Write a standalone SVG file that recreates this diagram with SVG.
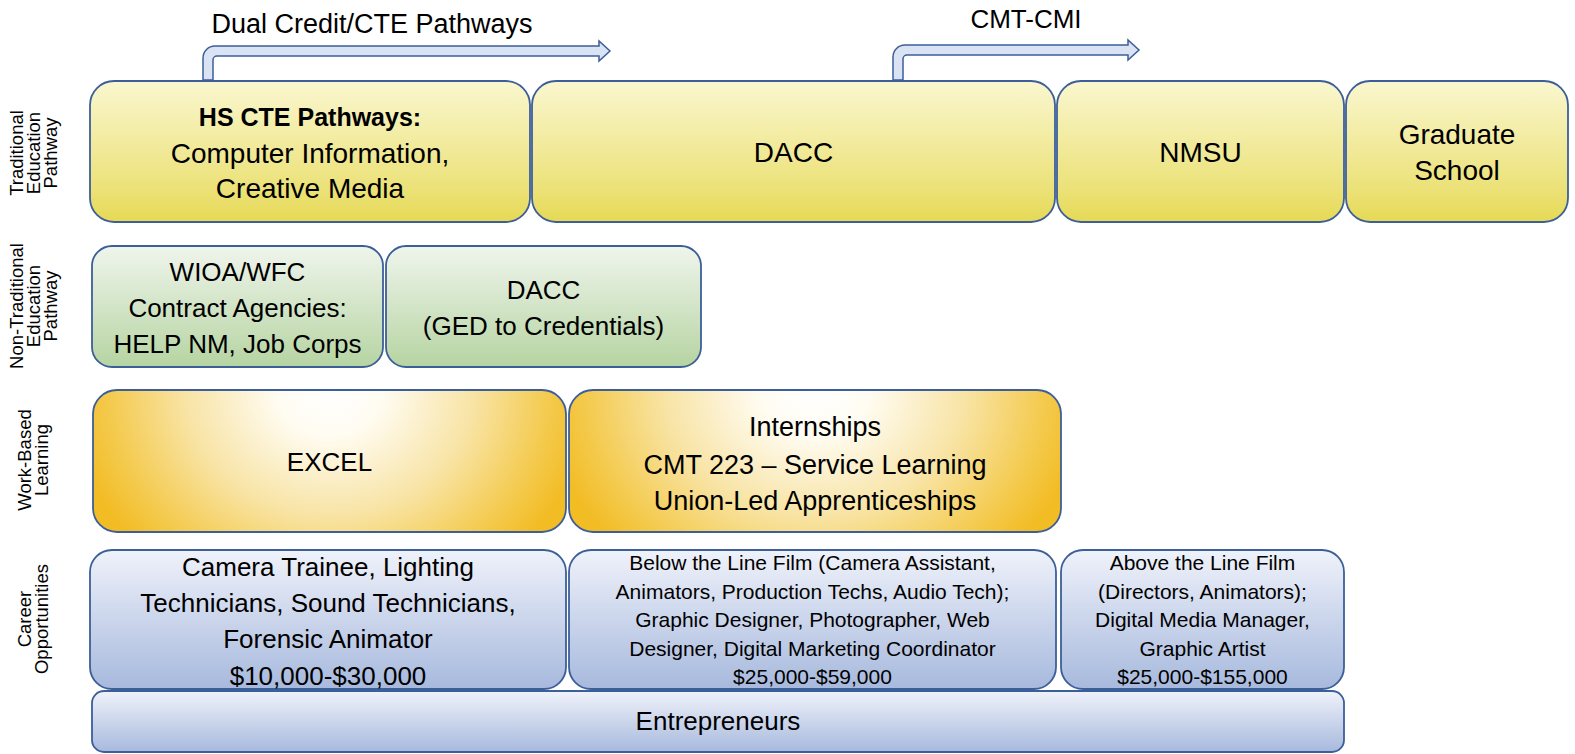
<svg xmlns="http://www.w3.org/2000/svg" width="1575" height="754" viewBox="0 0 1575 754">
<defs>
<linearGradient id="gY" x1="0" y1="0" x2="0" y2="1">
<stop offset="0" stop-color="#faf7d0"/><stop offset="0.75" stop-color="#ece27a"/><stop offset="1" stop-color="#e6d955"/>
</linearGradient>
<linearGradient id="gG" x1="0" y1="0" x2="0" y2="1">
<stop offset="0" stop-color="#eff5ec"/><stop offset="1" stop-color="#b6d4a2"/>
</linearGradient>
<linearGradient id="gB" x1="0" y1="0" x2="0" y2="1">
<stop offset="0" stop-color="#eff2fa"/><stop offset="1" stop-color="#a7b9dd"/>
</linearGradient>
<radialGradient id="gO" cx="0.5" cy="0" r="0.55" gradientTransform="translate(0.5,0) scale(1,2.9) translate(-0.5,0)">
<stop offset="0" stop-color="#ffffff"/><stop offset="0.2" stop-color="#fffcf2"/><stop offset="0.55" stop-color="#f8e4a6"/><stop offset="0.85" stop-color="#f4ca4d"/><stop offset="1" stop-color="#f2bc25"/>
</radialGradient>
<style>
.box{stroke:#3c5f99;stroke-width:1.8}
.t{font-family:"Liberation Sans",Arial,sans-serif;fill:#000;text-anchor:middle}
.lbl{font-family:"Liberation Sans",Arial,sans-serif;font-size:18.5px;fill:#000;text-anchor:middle}
.arrow{fill:#dae3f3;stroke:#3c5f99;stroke-width:1.5;stroke-linejoin:miter}
</style>
</defs>
<rect width="1575" height="754" fill="#ffffff"/>

<g id="side-labels">
<text class="lbl" transform="translate(23,153) rotate(-90)"><tspan x="0" y="0">Traditional</tspan><tspan x="0" y="17">Education</tspan><tspan x="0" y="34">Pathway</tspan></text>
<text class="lbl" transform="translate(23,306) rotate(-90)"><tspan x="0" y="0">Non-Traditional</tspan><tspan x="0" y="17">Education</tspan><tspan x="0" y="34">Pathway</tspan></text>
<text class="lbl" transform="translate(31,460) rotate(-90)"><tspan x="0" y="0">Work-Based</tspan><tspan x="0" y="17">Learning</tspan></text>
<text class="lbl" transform="translate(31,619) rotate(-90)"><tspan x="0" y="0">Career</tspan><tspan x="0" y="17">Opportunities</tspan></text>
</g>

<g id="connectors">
<path class="arrow" d="M203,80 L203,58 A12,12 0 0 1 215,46 L599,46 L599,41 L610,51 L599,61 L599,56 L217,56 A4,4 0 0 0 213,60 L213,80 Z"/>
<path class="arrow" d="M893,80 L893,57 A12,12 0 0 1 905,45 L1128,45 L1128,40 L1139,50 L1128,60 L1128,55 L907,55 A4,4 0 0 0 903,59 L903,80 Z"/>
<text class="t" x="372" y="33" font-size="27">Dual Credit/CTE Pathways</text>
<text class="t" x="1026" y="28" font-size="26">CMT-CMI</text>
</g>

<g id="hs-cte">
<rect class="box" x="90" y="81" width="440" height="141" rx="24" fill="url(#gY)"/>
<text class="t" x="310" y="126" font-size="25" font-weight="bold">HS CTE Pathways:</text>
<text class="t" x="310" y="163" font-size="28">Computer Information,</text>
<text class="t" x="310" y="198" font-size="28">Creative Media</text>
</g>
<g id="dacc">
<rect class="box" x="532" y="81" width="523" height="141" rx="24" fill="url(#gY)"/>
<text class="t" x="793.5" y="162" font-size="28">DACC</text>
</g>
<g id="nmsu">
<rect class="box" x="1057" y="81" width="287" height="141" rx="24" fill="url(#gY)"/>
<text class="t" x="1200.5" y="162" font-size="28">NMSU</text>
</g>
<g id="grad">
<rect class="box" x="1346" y="81" width="222" height="141" rx="24" fill="url(#gY)"/>
<text class="t" x="1457" y="144" font-size="28">Graduate</text>
<text class="t" x="1457" y="180" font-size="28">School</text>
</g>

<g id="wioa">
<rect class="box" x="92" y="246" width="291" height="121" rx="20" fill="url(#gG)"/>
<text class="t" x="237.5" y="281" font-size="26">WIOA/WFC</text>
<text class="t" x="237.5" y="317" font-size="26">Contract Agencies:</text>
<text class="t" x="237.5" y="353" font-size="26">HELP NM, Job Corps</text>
</g>
<g id="dacc-ged">
<rect class="box" x="386" y="246" width="315" height="121" rx="20" fill="url(#gG)"/>
<text class="t" x="543.5" y="299" font-size="26">DACC</text>
<text class="t" x="543.5" y="335" font-size="26">(GED to Credentials)</text>
</g>

<g id="excel">
<rect class="box" x="93" y="390" width="473" height="142" rx="24" fill="url(#gO)"/>
<text class="t" x="329.5" y="471" font-size="26">EXCEL</text>
</g>
<g id="internships">
<rect class="box" x="569" y="390" width="492" height="142" rx="24" fill="url(#gO)"/>
<text class="t" x="815" y="436" font-size="27">Internships</text>
<text class="t" x="815" y="474" font-size="27">CMT 223 – Service Learning</text>
<text class="t" x="815" y="510" font-size="27">Union-Led Apprenticeships</text>
</g>

<g id="career-entry">
<rect class="box" x="90" y="550" width="476" height="139" rx="22" fill="url(#gB)"/>
<text class="t" x="328" y="576" font-size="26">Camera Trainee, Lighting</text>
<text class="t" x="328" y="612" font-size="26">Technicians, Sound Technicians,</text>
<text class="t" x="328" y="648" font-size="26">Forensic Animator</text>
<text class="t" x="328" y="685" font-size="26">$10,000-$30,000</text>
</g>
<g id="career-below">
<rect class="box" x="569" y="550" width="487" height="139" rx="22" fill="url(#gB)"/>
<text class="t" x="812.5" y="570" font-size="21">Below the Line Film (Camera Assistant,</text>
<text class="t" x="812.5" y="598.5" font-size="21">Animators, Production Techs, Audio Tech);</text>
<text class="t" x="812.5" y="627" font-size="21">Graphic Designer, Photographer, Web</text>
<text class="t" x="812.5" y="655.5" font-size="21">Designer, Digital Marketing Coordinator</text>
<text class="t" x="812.5" y="684" font-size="21">$25,000-$59,000</text>
</g>
<g id="career-above">
<rect class="box" x="1061" y="550" width="283" height="139" rx="22" fill="url(#gB)"/>
<text class="t" x="1202.5" y="570" font-size="21">Above the Line Film</text>
<text class="t" x="1202.5" y="598.5" font-size="21">(Directors, Animators);</text>
<text class="t" x="1202.5" y="627" font-size="21">Digital Media Manager,</text>
<text class="t" x="1202.5" y="655.5" font-size="21">Graphic Artist</text>
<text class="t" x="1202.5" y="684" font-size="21">$25,000-$155,000</text>
</g>
<g id="entrepreneurs">
<rect class="box" x="92" y="691" width="1252" height="61" rx="12" fill="url(#gB)"/>
<text class="t" x="718" y="730" font-size="26">Entrepreneurs</text>
</g>
</svg>
